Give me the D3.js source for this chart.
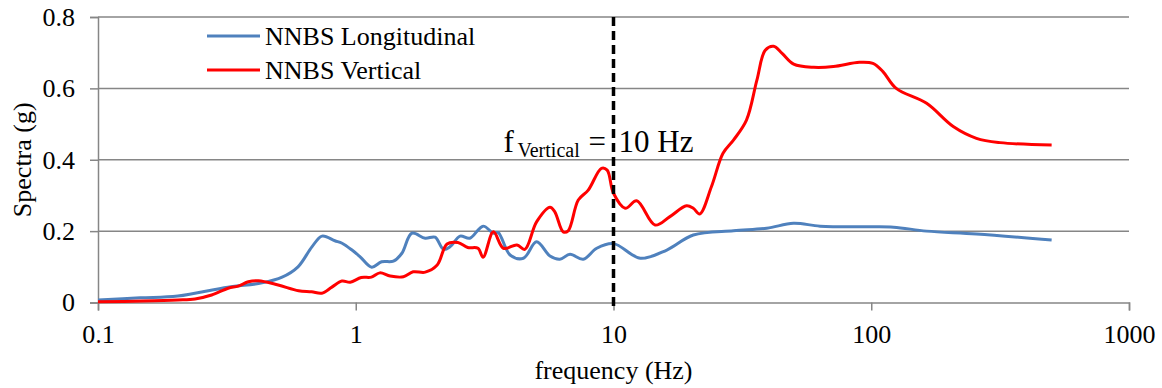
<!DOCTYPE html>
<html>
<head>
<meta charset="utf-8">
<script src="https://cdn.jsdelivr.net/npm/d3@7"></script>
<style>
  body { margin: 0; background: #fff; }
  svg text { font-family: "Liberation Serif", "Times New Roman", serif; fill: #000; }
</style>
</head>
<body>
<svg id="chart" width="1162" height="388"></svg>
<script>
// frequency (Hz) / spectra (g)
const longFreq = [0.1, 0.146, 0.204, 0.319, 0.433, 0.518, 0.597, 0.676, 0.74, 0.83, 0.885, 0.967, 1.04, 1.153, 1.26, 1.4, 1.51, 1.65, 1.86, 2.03, 2.19, 2.32, 2.54, 2.77, 3.12, 3.42, 3.57, 3.97, 4.47, 5.03, 5.67, 6.19, 6.78, 7.63, 8.61, 10, 12.7, 16.1, 20.4, 29.2, 39.3, 49.9, 63.3, 96, 122, 164, 256, 501];
const longVal = [0.007, 0.013, 0.018, 0.043, 0.055, 0.071, 0.1, 0.156, 0.186, 0.173, 0.166, 0.147, 0.128, 0.099, 0.114, 0.116, 0.138, 0.194, 0.18, 0.183, 0.149, 0.156, 0.186, 0.18, 0.214, 0.194, 0.196, 0.133, 0.124, 0.17, 0.13, 0.121, 0.135, 0.121, 0.152, 0.165, 0.124, 0.147, 0.189, 0.201, 0.208, 0.222, 0.214, 0.212, 0.211, 0.2, 0.192, 0.175];

const vertFreq = [0.1, 0.15, 0.204, 0.238, 0.276, 0.32, 0.35, 0.383, 0.419, 0.5, 0.6, 0.674, 0.738, 0.808, 0.884, 0.952, 1.05, 1.15, 1.24, 1.36, 1.53, 1.67, 1.86, 2.07, 2.26, 2.49, 2.72, 2.98, 3.12, 3.42, 3.74, 4.22, 4.53, 5.03, 5.67, 5.92, 6.38, 6.67, 7.3, 7.98, 8.98, 9.45, 10, 11.1, 12.3, 14.5, 16.5, 19.2, 20.4, 21.6, 24, 26.6, 29.2, 32.8, 36, 38.8, 41.8, 45.1, 50, 59.8, 71.3, 90, 101.5, 111, 125, 164, 208, 256, 316, 501];
const vertVal = [0.002, 0.004, 0.007, 0.01, 0.021, 0.04, 0.046, 0.058, 0.061, 0.049, 0.033, 0.03, 0.026, 0.043, 0.06, 0.057, 0.07, 0.071, 0.083, 0.074, 0.072, 0.086, 0.085, 0.105, 0.164, 0.168, 0.154, 0.152, 0.127, 0.198, 0.152, 0.161, 0.149, 0.226, 0.267, 0.254, 0.198, 0.201, 0.287, 0.315, 0.376, 0.371, 0.306, 0.264, 0.285, 0.217, 0.24, 0.271, 0.264, 0.248, 0.325, 0.418, 0.455, 0.511, 0.623, 0.707, 0.718, 0.698, 0.668, 0.659, 0.661, 0.673, 0.67, 0.647, 0.6, 0.558, 0.493, 0.46, 0.448, 0.441];

const xTicks = [0.1, 1, 10, 100, 1000];
const xTickLabels = ['0.1', '1', '10', '100', '1000'];
const yTicks = [0, 0.2, 0.4, 0.6, 0.8];
const yTickLabels = ['0', '0.2', '0.4', '0.6', '0.8'];
const markerFreq = 10;

const margin = {top: 17, right: 33, bottom: 85.5, left: 98};
const width = 1162 - margin.left - margin.right;
const height = 388 - margin.top - margin.bottom;
const grey = '#868686';

const svg = d3.select('#chart');
const g = svg.append('g').attr('transform', `translate(${margin.left},${margin.top})`);

const x = d3.scaleLog().domain([0.1, 1000]).range([0, width]);
const y = d3.scaleLinear().domain([0, 0.8]).range([height, 0]);

// horizontal gridlines
g.append('g')
  .selectAll('line')
  .data(yTicks.filter(d => d > 0))
  .enter().append('line')
  .attr('x1', 0).attr('x2', width)
  .attr('y1', d => y(d)).attr('y2', d => y(d))
  .attr('stroke', grey).attr('stroke-width', 1.5);

const yAxis = g.append('g')
  .call(d3.axisLeft(y).tickValues(yTicks).tickSize(8).tickPadding(15)
    .tickFormat((d, i) => yTickLabels[i]));

const xAxis = g.append('g')
  .attr('transform', `translate(0,${height})`)
  .call(d3.axisBottom(x).tickValues(xTicks).tickSize(8).tickPadding(14)
    .tickFormat((d, i) => xTickLabels[i]));

[xAxis, yAxis].forEach(a => {
  a.select('.domain').attr('stroke', grey).attr('stroke-width', 1.5);
  a.selectAll('.tick line').attr('stroke', grey).attr('stroke-width', 1.5);
  a.selectAll('.tick text').attr('font-size', 26).attr('fill', '#000')
    .attr('font-family', '"Liberation Serif", "Times New Roman", serif');
});

const line = d3.line()
  .x(d => x(d[0]))
  .y(d => y(d[1]))
  .curve(d3.curveCatmullRom.alpha(0.5));

const series = [
  {name: 'NNBS Longitudinal', color: '#4F81BD', data: d3.zip(longFreq, longVal)},
  {name: 'NNBS Vertical', color: '#FF0000', data: d3.zip(vertFreq, vertVal)}
];

series.forEach(s => {
  g.append('path')
    .datum(s.data)
    .attr('fill', 'none')
    .attr('stroke', s.color)
    .attr('stroke-width', 3)
    .attr('stroke-linejoin', 'round')
    .attr('d', line);
});

// dashed marker at f = 10 Hz
const mx = x(markerFreq);
g.append('line')
  .attr('x1', mx).attr('x2', mx)
  .attr('y1', 0).attr('y2', height + 4)
  .attr('stroke', '#000').attr('stroke-width', 3.5)
  .attr('stroke-dasharray', '9,5');

const ann = g.append('text')
  .attr('y', 135)
  .attr('font-size', 31);
ann.append('tspan').attr('x', mx - 110).text('f');
ann.append('tspan').attr('x', mx - 96).attr('font-size', 20).attr('dy', 5).text('Vertical');
ann.append('tspan').attr('x', mx - 25).attr('dy', -5).text('=');
ann.append('tspan').attr('x', mx + 5).text('10 Hz');

// legend
const legend = svg.append('g').attr('transform', 'translate(207,36)');
series.forEach((s, i) => {
  const row = legend.append('g').attr('transform', `translate(0,${i * 34})`);
  row.append('line')
    .attr('x1', 0).attr('x2', 53)
    .attr('stroke', s.color).attr('stroke-width', 3);
  row.append('text')
    .attr('x', 58).attr('y', 9)
    .attr('font-size', 26)
    .text(s.name);
});

// axis titles
svg.append('text')
  .attr('x', margin.left + mx)
  .attr('y', 379)
  .attr('text-anchor', 'middle')
  .attr('font-size', 26)
  .text('frequency (Hz)');

svg.append('text')
  .attr('transform', `translate(31,${margin.top + height / 2}) rotate(-90)`)
  .attr('text-anchor', 'middle')
  .attr('font-size', 26)
  .text('Spectra (g)');
</script>
</body>
</html>
